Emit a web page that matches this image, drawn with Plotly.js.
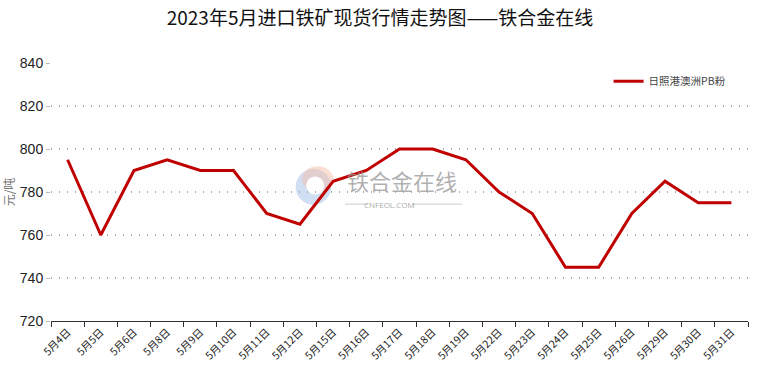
<!DOCTYPE html>
<html>
<head>
<meta charset="utf-8">
<script src="https://cdn.plot.ly/plotly-3.0.1.min.js"></script>
<style>html,body{margin:0;padding:0;background:#fff;}#chart{width:760px;height:375px;}</style>
</head>
<body>
<div id="chart"></div>
<script>
const categories = ["5月4日","5月5日","5月6日","5月8日","5月9日","5月10日","5月11日","5月12日","5月15日","5月16日","5月17日","5月18日","5月19日","5月22日","5月23日","5月24日","5月25日","5月26日","5月29日","5月30日","5月31日"];
const pbFines = [795,760,790,795,790,790,770,765,785,790,800,800,795,780,770,745,745,770,785,775,775];
const seriesName = "日照港澳洲PB粉";
const yTicks = [720,740,760,780,800,820,840];

const trace = {
  x: categories, y: pbFines, name: seriesName, type: "scatter", mode: "lines",
  line: {color: "#c00000", width: 3}, showlegend: true
};

const layout = {
  width: 760, height: 375,
  margin: {l: 51, r: 12, t: 63, b: 54},
  paper_bgcolor: "#fff", plot_bgcolor: "#fff",
  title: {text: "2023年5月进口铁矿现货行情走势图——铁合金在线", x: 0.5, xanchor: "center", y: 0.95, yanchor: "middle",
    font: {family: "Noto Sans CJK SC", size: 19, color: "#111"}},
  xaxis: {
    type: "category", tickson: "boundaries", ticks: "outside", ticklen: 5, tickcolor: "#333",
    showline: true, linecolor: "#333", linewidth: 1, showgrid: false, tickangle: -45,
    tickfont: {family: "Noto Sans CJK SC", size: 10.5, color: "#222"}, range: [-0.5, 20.5], fixedrange: true
  },
  yaxis: {
    range: [720, 840], tickvals: yTicks, ticks: "outside", ticklen: 4, tickcolor: "#bbb",
    showline: false, zeroline: false, showgrid: true, gridcolor: "#aaa", griddash: "1px,7px", gridwidth: 1.2,
    tickfont: {family: "Liberation Sans, Arial", size: 14, color: "#222"},
    title: {text: "元/吨", standoff: 6, font: {family: "Noto Sans CJK SC", size: 12, color: "#777"}}
  },
  legend: {x: 0.80, y: 0.985, xanchor: "left", yanchor: "top", bgcolor: "rgba(0,0,0,0)",
    font: {family: "Noto Sans CJK SC", size: 10.5, color: "#444"}, itemwidth: 30},
  shapes: [
    {type: "circle", xref: "paper", yref: "paper", x0: 0.351, x1: 0.402, y0: 0.45, y1: 0.59,
      fillcolor: "rgba(150,185,230,0.45)", line: {width: 0}, layer: "below"},
    {type: "circle", xref: "paper", yref: "paper", x0: 0.36, x1: 0.405, y0: 0.5, y1: 0.60,
      fillcolor: "rgba(245,190,170,0.5)", line: {width: 0}, layer: "below"},
    {type: "circle", xref: "paper", yref: "paper", x0: 0.366, x1: 0.392, y0: 0.49, y1: 0.56,
      fillcolor: "#fff", line: {width: 0}, layer: "below"},
    {type: "line", xref: "paper", yref: "paper", x0: 0.422, x1: 0.455, y0: 0.453, y1: 0.453, line: {color: "#ccc", width: 1}, layer: "below"},
    {type: "line", xref: "paper", yref: "paper", x0: 0.518, x1: 0.59, y0: 0.453, y1: 0.453, line: {color: "#ccc", width: 1}, layer: "below"}
  ],
  annotations: [
    {text: "铁合金在线", xref: "paper", yref: "paper", x: 0.504, y: 0.545, showarrow: false,
      font: {family: "Noto Sans CJK SC", size: 22, color: "rgba(150,150,150,0.75)"}},
    {text: "CNFEOL.COM", xref: "paper", yref: "paper", x: 0.486, y: 0.453, showarrow: false,
      font: {family: "Open Sans", size: 8, color: "rgba(150,150,150,0.85)"}}
  ]
};

Plotly.newPlot("chart", [trace], layout, {displayModeBar: false, staticPlot: true});
</script>
</body>
</html>
